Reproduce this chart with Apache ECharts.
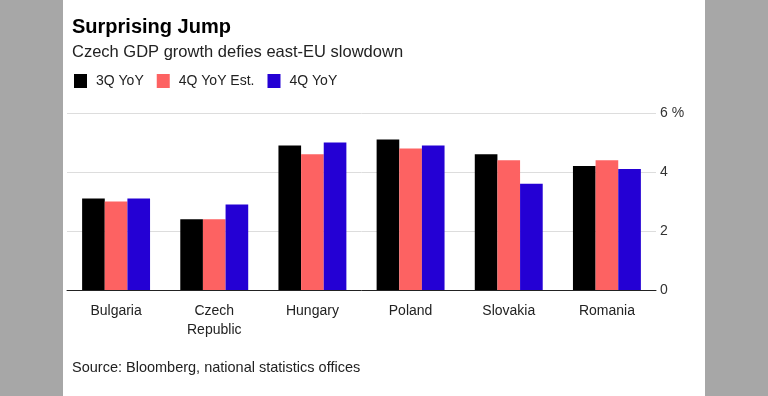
<!DOCTYPE html>
<html><head><meta charset="utf-8">
<script src="https://cdn.jsdelivr.net/npm/echarts@6/dist/echarts.min.js"></script>
<style>
html,body{margin:0;padding:0;width:768px;height:396px;background:#a7a7a7;overflow:hidden}
#bg{position:absolute;left:63px;top:0;width:642px;height:396px;background:#fff}
#c{position:absolute;left:0;top:0;width:768px;height:396px}
</style></head>
<body><div id="bg"></div><div id="c"></div>
<script>
const categories = ['Bulgaria', 'Czech\nRepublic', 'Hungary', 'Poland', 'Slovakia', 'Romania'];
const q3YoY = [3.1, 2.4, 4.9, 5.1, 4.6, 4.2];
const q4YoYEst = [3.0, 2.4, 4.6, 4.8, 4.4, 4.4];
const q4YoY = [3.1, 2.9, 5.0, 4.9, 3.6, 4.1];
const seriesNames = ['3Q YoY', '4Q YoY Est.', '4Q YoY'];
const colors = ['#000000', '#fd6262', '#2400d4'];
const font = 'Liberation Sans, Arial, Helvetica, sans-serif';

const chart = echarts.init(document.getElementById('c'), null, {renderer: 'canvas'});
chart.setOption({
  animation: false,
  backgroundColor: 'transparent',
  textStyle: {fontFamily: font},
  title: [
    {text: 'Surprising Jump', left: 67, top: 12,
     textStyle: {fontFamily: font, fontSize: 20, fontWeight: 'bold', color: '#000'}},
    {text: 'Czech GDP growth defies east-EU slowdown', left: 67, top: 39,
     textStyle: {fontFamily: font, fontSize: 16.5, fontWeight: 'normal', color: '#222'}},
    {text: 'Source: Bloomberg, national statistics offices', left: 67, top: 355,
     textStyle: {fontFamily: font, fontSize: 14.5, fontWeight: 'normal', color: '#222'}}
  ],
  legend: {
    left: 69, top: 69, itemWidth: 13, itemHeight: 14, itemGap: 13,
    icon: 'rect',
    textStyle: {fontFamily: font, fontSize: 14, color: '#222', padding: [0, 0, 0, 4]},
    data: seriesNames
  },
  grid: {left: 67, right: 112, top: 113, bottom: 106, containLabel: false},
  xAxis: {
    type: 'category', data: categories,
    axisLine: {lineStyle: {color: '#222', width: 1}},
    axisTick: {alignWithLabel: true, length: 4, lineStyle: {color: '#222'}},
    axisLabel: {fontFamily: font, fontSize: 14, color: '#222', margin: 12, lineHeight: 19}
  },
  yAxis: {
    type: 'value', position: 'right', min: 0, max: 6, interval: 2,
    axisLine: {show: false}, axisTick: {show: false},
    axisLabel: {fontFamily: font, fontSize: 14, color: '#333', margin: 4,
      formatter: v => v === 6 ? '6 %' : String(v)},
    splitLine: {lineStyle: {color: '#dddddd', width: 1}}
  },
  series: [
    {name: seriesNames[0], type: 'bar', data: q3YoY, itemStyle: {color: colors[0]}, barGap: '0%', barCategoryGap: '30.8%'},
    {name: seriesNames[1], type: 'bar', data: q4YoYEst, itemStyle: {color: colors[1]}, barGap: '0%', barCategoryGap: '30.8%'},
    {name: seriesNames[2], type: 'bar', data: q4YoY, itemStyle: {color: colors[2]}, barGap: '0%', barCategoryGap: '30.8%'}
  ]
});
</script></body></html>
